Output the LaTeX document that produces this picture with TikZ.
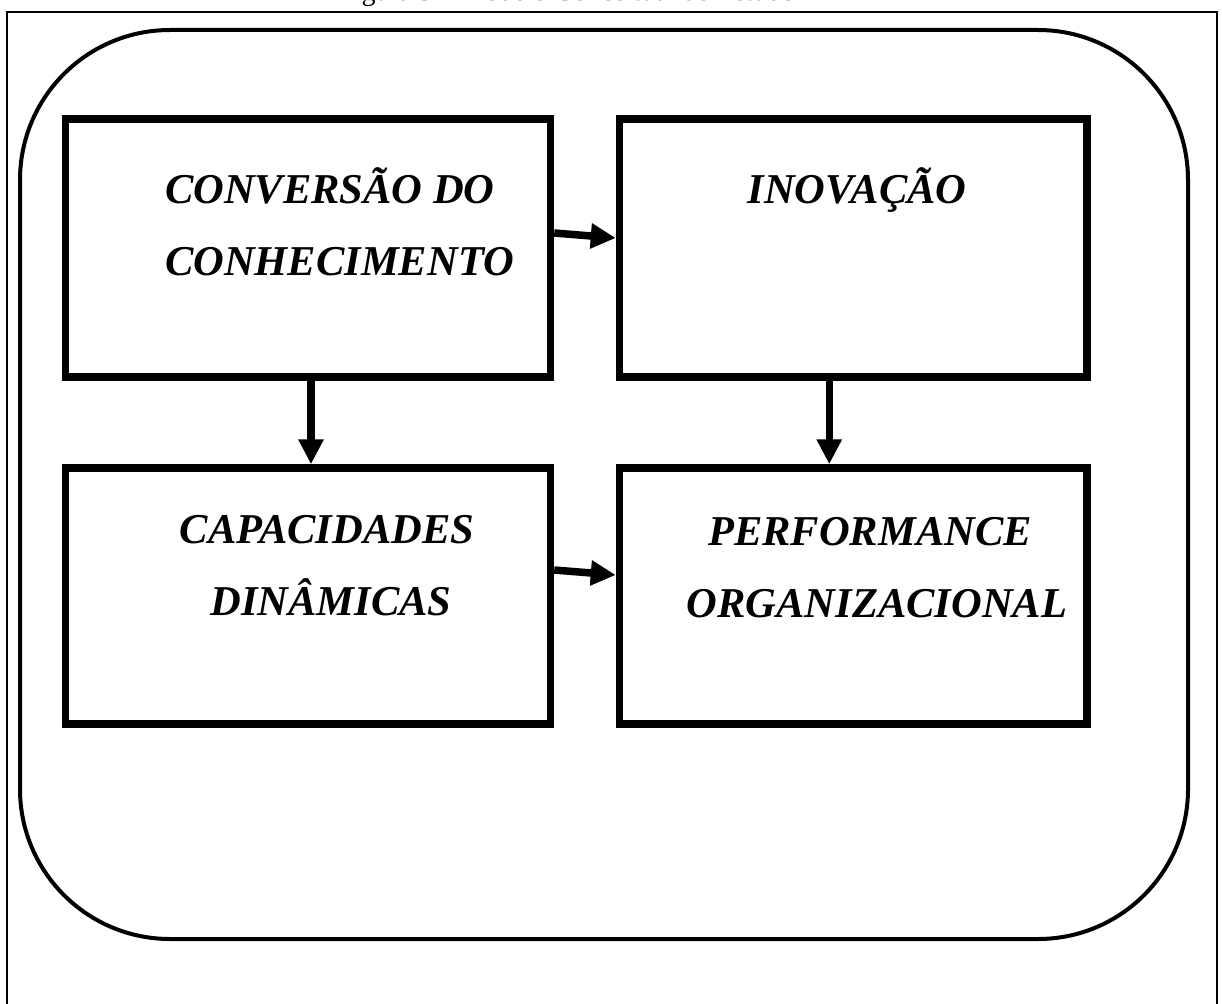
\documentclass[tikz,border=0pt]{standalone}
\usepackage{fontspec}
\setmainfont{Liberation Serif}
\usetikzlibrary{arrows.meta}

\begin{document}
\begin{tikzpicture}[x=1pt,y=-1pt,
  box/.style={draw, line width=7.5pt, rectangle, inner sep=0pt},
  label/.style={font=\fontsize{42.5}{46}\selectfont\bfseries\itshape, inner sep=0pt},
  flow/.style={line width=7.5pt, -{Triangle[width=24pt,length=25pt]}},
  title/.style={font=\fontsize{28}{32}\selectfont, inner sep=0pt}
]
\useasboundingbox (0,0) rectangle (1222,1003);
\begin{scope}
\clip (0,0) rectangle (1222,1003);

% caption above the frame (only its lower part lies on the page)
\node[title, anchor=base west] (cap) at (338,1) {Figura 3 -- Modelo Conceitual do Estudo};

% outer frame, open at the bottom
\draw[line width=2pt] (7,1010) -- (7,12) -- (1217,12) -- (1217,1010);

% rounded enclosure
\draw[line width=4pt, rounded corners=150pt] (20,30) rectangle (1188,939);

% the four blocks
\node[box, minimum width=485pt, minimum height=257.5pt] (conv) at (308,248) {};
\node[box, minimum width=467.5pt, minimum height=257.5pt] (inov) at (853.25,248) {};
\node[box, minimum width=485pt, minimum height=256pt] (capd) at (308,596) {};
\node[box, minimum width=467.5pt, minimum height=256pt] (perf) at (853.25,596) {};

% block texts
\node[label, anchor=base west] (t1a) at (165,203) {CONVERSÃO DO};
\node[label, anchor=base west] (t1b) at (165,275) {CONHECIMENTO};
\node[label, anchor=base] (t2) at (857,203) {INOVAÇÃO};
\node[label, anchor=base] (t3a) at (327,543) {CAPACIDADES};
\node[label, anchor=base] (t3b) at (331,615) {DINÂMICAS};
\node[label, anchor=base] (t4a) at (870,545) {PERFORMANCE};
\node[label, anchor=base] (t4b) at (877,617) {ORGANIZACIONAL};

% connectors
\draw[flow] ([yshift=15pt]conv.east) -- ([yshift=10pt]inov.west);
\draw[flow] ([xshift=3pt]conv.south) -- ([xshift=3pt]capd.north);
\draw[flow] ([xshift=-24pt]inov.south) -- ([xshift=-24pt]perf.north);
\draw[flow] ([yshift=26pt]capd.east) -- ([yshift=21pt]perf.west);
\end{scope}
\end{tikzpicture}
\end{document}
